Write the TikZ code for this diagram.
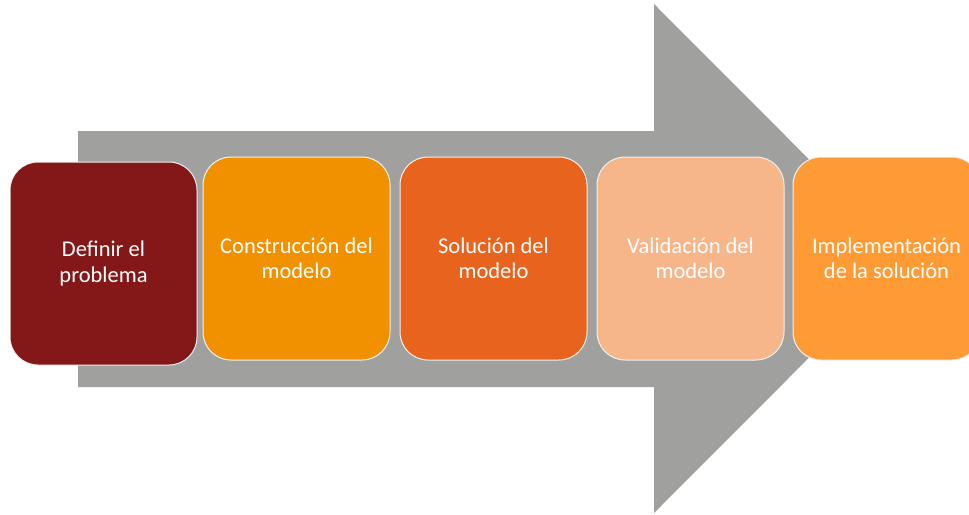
\documentclass[tikz,border=0pt]{standalone}
\usepackage{fontspec}
\setsansfont{Carlito}
\usepackage{tikz}
\usetikzlibrary{positioning}

\definecolor{arrowgray}{HTML}{A0A09E}
\definecolor{stepred}{HTML}{841818}
\definecolor{steporange}{HTML}{F29100}
\definecolor{stepdark}{HTML}{E8641E}
\definecolor{steppeach}{HTML}{F7B68A}
\definecolor{steplight}{HTML}{FF9B35}

\begin{document}
\begin{tikzpicture}[
        x=1pt, y=-1pt,
        node distance=10pt,
        every node/.style={font=\sffamily\fontsize{22.5}{25.5}\selectfont, align=center, text=white},
        stepbox/.style={rectangle, rounded corners=28pt, draw=white!88!gray, line width=1pt, outer sep=0pt, minimum width=187pt, minimum height=203pt, inner sep=0pt}
    ]
    \useasboundingbox (0,0) rectangle (969,514);
    % Big arrow
    \fill[arrowgray] (78,131) -- (654,131) -- (654,4) -- (908,258.5) -- (654,513) -- (654,387) -- (78,387) -- cycle;
    % Nodes
    \node[stepbox, fill=stepred] (define) at (103.5,263.5) {Definir el\\problema};
    \node[stepbox, fill=steporange, right=6pt of define, yshift=5pt] (build) {Construcción del\\modelo};
    \node[stepbox, fill=stepdark, right=of build] (solve) {Solución del\\modelo};
    \node[stepbox, fill=steppeach, right=of solve] (validate) {Validación del\\modelo};
    \node[stepbox, fill=steplight, right=9pt of validate] (implement) {Implementación\\de la solución};
\end{tikzpicture}
\end{document}
